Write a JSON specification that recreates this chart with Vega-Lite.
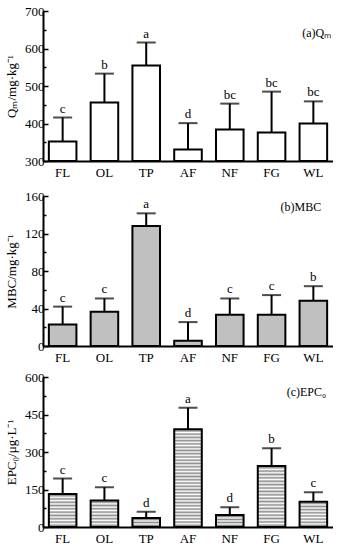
{
  "$schema": "https://vega.github.io/schema/vega-lite/v6.json",
  "padding": {"left": 5, "top": 5, "right": 0, "bottom": 0},
  "spacing": 11,
  "config": {
    "font": "Liberation Serif",
    "view": {"stroke": null},
    "axis": {"domainColor": "black", "domainWidth": 2, "tickColor": "black", "labelColor": "black", "labelFont": "Liberation Serif", "labelFontSize": 13, "titleFont": "Liberation Serif", "titleFontSize": 13, "titleFontWeight": "normal", "titleColor": "black", "grid": false, "labelOverlap": false},
    "axisX": {"ticks": false, "labelPadding": 5, "labelAngle": 0, "title": null},
    "axisY": {"tickWidth": 1.5, "labelPadding": 4, "titlePadding": 6, "tickCount": 20}
  },
  "datasets": {
    "qm": [
      {"site": "FL", "value": 352, "err": 416, "sig": "c"},
      {"site": "OL", "value": 456, "err": 533, "sig": "b"},
      {"site": "TP", "value": 555, "err": 616, "sig": "a"},
      {"site": "AF", "value": 331, "err": 401, "sig": "d"},
      {"site": "NF", "value": 384, "err": 453, "sig": "bc"},
      {"site": "FG", "value": 376, "err": 485, "sig": "bc"},
      {"site": "WL", "value": 400, "err": 459, "sig": "bc"}
    ],
    "mbc": [
      {"site": "FL", "value": 23, "err": 42, "sig": "c"},
      {"site": "OL", "value": 36.5, "err": 50.7, "sig": "c"},
      {"site": "TP", "value": 128, "err": 141.5, "sig": "a"},
      {"site": "AF", "value": 5.7, "err": 25.5, "sig": "d"},
      {"site": "NF", "value": 33.3, "err": 50.7, "sig": "c"},
      {"site": "FG", "value": 33.3, "err": 54.3, "sig": "c"},
      {"site": "WL", "value": 48.2, "err": 63.8, "sig": "b"}
    ],
    "epc": [
      {"site": "FL", "value": 132, "err": 194, "sig": "c"},
      {"site": "OL", "value": 106, "err": 159, "sig": "c"},
      {"site": "TP", "value": 36, "err": 61, "sig": "d"},
      {"site": "AF", "value": 391, "err": 477, "sig": "a"},
      {"site": "NF", "value": 48, "err": 79, "sig": "d"},
      {"site": "FG", "value": 244, "err": 315, "sig": "b"},
      {"site": "WL", "value": 101, "err": 139, "sig": "c"}
    ]
  },
  "vconcat": [
    {
      "width": 290, "height": 150,
      "data": {"name": "qm"},
      "encoding": {"x": {"field": "site", "type": "nominal", "sort": null, "scale": {"paddingInner": 0.34, "paddingOuter": 0.14}}},
      "layer": [
        {"mark": {"type": "rule", "strokeWidth": 2, "color": "black"},
         "encoding": {"y": {"field": "value", "type": "quantitative", "scale": {"domain": [300, 700], "zero": false, "nice": false},
           "axis": {"title": "Qₘ/mg·kg⁻¹", "tickCount": 20, "values": [300, 350, 400, 450, 500, 550, 600, 650, 700], "labelExpr": "datum.value % 100 === 0 ? datum.label : ''", "tickSize": {"condition": {"test": "datum.value % 100 === 0", "value": -5}, "value": -3}}},
           "y2": {"field": "err"}}},
        {"mark": {"type": "tick", "size": 19, "thickness": 2, "color": "black"}, "encoding": {"y": {"field": "err", "type": "quantitative"}}},
        {"mark": {"type": "bar", "fill": "white", "stroke": "black", "strokeWidth": 2}, "encoding": {"y": {"field": "value", "type": "quantitative"}, "y2": {"datum": 300}}},
        {"mark": {"type": "text", "baseline": "bottom", "dy": -2, "fontSize": 13}, "encoding": {"y": {"field": "err", "type": "quantitative"}, "text": {"field": "sig"}}},
        {"data": {"values": [{}]}, "mark": {"type": "text", "align": "right", "baseline": "middle", "fontSize": 12, "dx": 4},
         "encoding": {"x": {"datum": "WL", "bandPosition": 1}, "y": {"datum": 641}, "text": {"value": "(a)Qₘ"}}}
      ]
    },
    {
      "spacing": 7,
      "vconcat": [
    {
      "width": 290, "height": 150,
      "data": {"name": "mbc"},
      "encoding": {"x": {"field": "site", "type": "nominal", "sort": null, "scale": {"paddingInner": 0.34, "paddingOuter": 0.14}}},
      "layer": [
        {"mark": {"type": "rule", "strokeWidth": 2, "color": "black"},
         "encoding": {"y": {"field": "value", "type": "quantitative", "scale": {"domain": [0, 160], "nice": false},
           "axis": {"title": "MBC/mg·kg⁻¹", "tickCount": 20, "values": [0, 20, 40, 60, 80, 100, 120, 140, 160], "labelExpr": "datum.value % 40 === 0 ? datum.label : ''", "tickSize": {"condition": {"test": "datum.value % 40 === 0", "value": -5}, "value": -3}}},
           "y2": {"field": "err"}}},
        {"mark": {"type": "tick", "size": 19, "thickness": 2, "color": "black"}, "encoding": {"y": {"field": "err", "type": "quantitative"}}},
        {"mark": {"type": "bar", "fill": "#c0c0c0", "stroke": "black", "strokeWidth": 2}, "encoding": {"y": {"field": "value", "type": "quantitative"}}},
        {"mark": {"type": "text", "baseline": "bottom", "dy": -2, "fontSize": 13}, "encoding": {"y": {"field": "err", "type": "quantitative"}, "text": {"field": "sig"}}},
        {"data": {"values": [{}]}, "mark": {"type": "text", "align": "right", "baseline": "middle", "fontSize": 12, "dx": -6},
         "encoding": {"x": {"datum": "WL", "bandPosition": 1}, "y": {"datum": 148}, "text": {"value": "(b)MBC"}}}
      ]
    },
    {
      "width": 290, "height": 150,
      "data": {"name": "epc"},
      "encoding": {"x": {"field": "site", "type": "nominal", "sort": null, "scale": {"paddingInner": 0.34, "paddingOuter": 0.14}}},
      "layer": [
        {"mark": {"type": "rule", "strokeWidth": 2, "color": "black"},
         "encoding": {"y": {"field": "value", "type": "quantitative", "scale": {"domain": [0, 600], "nice": false},
           "axis": {"title": "EPC₀/μg·L⁻¹", "tickCount": 20, "values": [0, 75, 150, 225, 300, 375, 450, 525, 600], "labelExpr": "datum.value % 150 === 0 ? datum.label : ''", "tickSize": {"condition": {"test": "datum.value % 150 === 0", "value": -5}, "value": -3}}},
           "y2": {"field": "err"}}},
        {"mark": {"type": "tick", "size": 19, "thickness": 2, "color": "black"}, "encoding": {"y": {"field": "err", "type": "quantitative"}}},
        {"transform": [{"filter": "datum.site === 'FL'"}],
         "mark": {"type": "bar", "stroke": "black", "strokeWidth": 2, "fill": {"gradient": "linear", "x1": 0, "y1": 0, "x2": 0, "y2": 1, "stops": [
           {"offset": 0, "color": "#ffffff"}, {"offset": 0.05, "color": "#8c8c8c"}, {"offset": 0.1, "color": "#ffffff"}, {"offset": 0.15, "color": "#8c8c8c"}, {"offset": 0.2, "color": "#ffffff"}, {"offset": 0.25, "color": "#8c8c8c"}, {"offset": 0.3, "color": "#ffffff"}, {"offset": 0.35, "color": "#8c8c8c"}, {"offset": 0.4, "color": "#ffffff"}, {"offset": 0.45, "color": "#8c8c8c"}, {"offset": 0.5, "color": "#ffffff"}, {"offset": 0.55, "color": "#8c8c8c"}, {"offset": 0.6, "color": "#ffffff"}, {"offset": 0.65, "color": "#8c8c8c"}, {"offset": 0.7, "color": "#ffffff"}, {"offset": 0.75, "color": "#8c8c8c"}, {"offset": 0.8, "color": "#ffffff"}, {"offset": 0.85, "color": "#8c8c8c"}, {"offset": 0.9, "color": "#ffffff"}, {"offset": 0.95, "color": "#8c8c8c"}, {"offset": 1, "color": "#ffffff"}]}},
         "encoding": {"y": {"field": "value", "type": "quantitative"}}},
        {"transform": [{"filter": "datum.site === 'OL' || datum.site === 'WL'"}],
         "mark": {"type": "bar", "stroke": "black", "strokeWidth": 2, "fill": {"gradient": "linear", "x1": 0, "y1": 0, "x2": 0, "y2": 1, "stops": [
           {"offset": 0, "color": "#ffffff"}, {"offset": 0.0625, "color": "#8c8c8c"}, {"offset": 0.125, "color": "#ffffff"}, {"offset": 0.1875, "color": "#8c8c8c"}, {"offset": 0.25, "color": "#ffffff"}, {"offset": 0.3125, "color": "#8c8c8c"}, {"offset": 0.375, "color": "#ffffff"}, {"offset": 0.4375, "color": "#8c8c8c"}, {"offset": 0.5, "color": "#ffffff"}, {"offset": 0.5625, "color": "#8c8c8c"}, {"offset": 0.625, "color": "#ffffff"}, {"offset": 0.6875, "color": "#8c8c8c"}, {"offset": 0.75, "color": "#ffffff"}, {"offset": 0.8125, "color": "#8c8c8c"}, {"offset": 0.875, "color": "#ffffff"}, {"offset": 0.9375, "color": "#8c8c8c"}, {"offset": 1, "color": "#ffffff"}]}},
         "encoding": {"y": {"field": "value", "type": "quantitative"}}},
        {"transform": [{"filter": "datum.site === 'TP'"}],
         "mark": {"type": "bar", "stroke": "black", "strokeWidth": 2, "fill": {"gradient": "linear", "x1": 0, "y1": 0, "x2": 0, "y2": 1, "stops": [
           {"offset": 0, "color": "#ffffff"}, {"offset": 0.1667, "color": "#8c8c8c"}, {"offset": 0.3333, "color": "#ffffff"}, {"offset": 0.5, "color": "#8c8c8c"}, {"offset": 0.6667, "color": "#ffffff"}, {"offset": 0.8333, "color": "#8c8c8c"}, {"offset": 1, "color": "#ffffff"}]}},
         "encoding": {"y": {"field": "value", "type": "quantitative"}}},
        {"transform": [{"filter": "datum.site === 'AF'"}],
         "mark": {"type": "bar", "stroke": "black", "strokeWidth": 2, "fill": {"gradient": "linear", "x1": 0, "y1": 0, "x2": 0, "y2": 1, "stops": [
           {"offset": 0, "color": "#ffffff"}, {"offset": 0.0167, "color": "#8c8c8c"}, {"offset": 0.0333, "color": "#ffffff"}, {"offset": 0.05, "color": "#8c8c8c"}, {"offset": 0.0667, "color": "#ffffff"}, {"offset": 0.0833, "color": "#8c8c8c"}, {"offset": 0.1, "color": "#ffffff"}, {"offset": 0.1167, "color": "#8c8c8c"}, {"offset": 0.1333, "color": "#ffffff"}, {"offset": 0.15, "color": "#8c8c8c"}, {"offset": 0.1667, "color": "#ffffff"}, {"offset": 0.1833, "color": "#8c8c8c"}, {"offset": 0.2, "color": "#ffffff"}, {"offset": 0.2167, "color": "#8c8c8c"}, {"offset": 0.2333, "color": "#ffffff"}, {"offset": 0.25, "color": "#8c8c8c"}, {"offset": 0.2667, "color": "#ffffff"}, {"offset": 0.2833, "color": "#8c8c8c"}, {"offset": 0.3, "color": "#ffffff"}, {"offset": 0.3167, "color": "#8c8c8c"}, {"offset": 0.3333, "color": "#ffffff"}, {"offset": 0.35, "color": "#8c8c8c"}, {"offset": 0.3667, "color": "#ffffff"}, {"offset": 0.3833, "color": "#8c8c8c"}, {"offset": 0.4, "color": "#ffffff"}, {"offset": 0.4167, "color": "#8c8c8c"}, {"offset": 0.4333, "color": "#ffffff"}, {"offset": 0.45, "color": "#8c8c8c"}, {"offset": 0.4667, "color": "#ffffff"}, {"offset": 0.4833, "color": "#8c8c8c"}, {"offset": 0.5, "color": "#ffffff"}, {"offset": 0.5167, "color": "#8c8c8c"}, {"offset": 0.5333, "color": "#ffffff"}, {"offset": 0.55, "color": "#8c8c8c"}, {"offset": 0.5667, "color": "#ffffff"}, {"offset": 0.5833, "color": "#8c8c8c"}, {"offset": 0.6, "color": "#ffffff"}, {"offset": 0.6167, "color": "#8c8c8c"}, {"offset": 0.6333, "color": "#ffffff"}, {"offset": 0.65, "color": "#8c8c8c"}, {"offset": 0.6667, "color": "#ffffff"}, {"offset": 0.6833, "color": "#8c8c8c"}, {"offset": 0.7, "color": "#ffffff"}, {"offset": 0.7167, "color": "#8c8c8c"}, {"offset": 0.7333, "color": "#ffffff"}, {"offset": 0.75, "color": "#8c8c8c"}, {"offset": 0.7667, "color": "#ffffff"}, {"offset": 0.7833, "color": "#8c8c8c"}, {"offset": 0.8, "color": "#ffffff"}, {"offset": 0.8167, "color": "#8c8c8c"}, {"offset": 0.8333, "color": "#ffffff"}, {"offset": 0.85, "color": "#8c8c8c"}, {"offset": 0.8667, "color": "#ffffff"}, {"offset": 0.8833, "color": "#8c8c8c"}, {"offset": 0.9, "color": "#ffffff"}, {"offset": 0.9167, "color": "#8c8c8c"}, {"offset": 0.9333, "color": "#ffffff"}, {"offset": 0.95, "color": "#8c8c8c"}, {"offset": 0.9667, "color": "#ffffff"}, {"offset": 0.9833, "color": "#8c8c8c"}, {"offset": 1, "color": "#ffffff"}]}},
         "encoding": {"y": {"field": "value", "type": "quantitative"}}},
        {"transform": [{"filter": "datum.site === 'NF'"}],
         "mark": {"type": "bar", "stroke": "black", "strokeWidth": 2, "fill": {"gradient": "linear", "x1": 0, "y1": 0, "x2": 0, "y2": 1, "stops": [
           {"offset": 0, "color": "#ffffff"}, {"offset": 0.125, "color": "#8c8c8c"}, {"offset": 0.25, "color": "#ffffff"}, {"offset": 0.375, "color": "#8c8c8c"}, {"offset": 0.5, "color": "#ffffff"}, {"offset": 0.625, "color": "#8c8c8c"}, {"offset": 0.75, "color": "#ffffff"}, {"offset": 0.875, "color": "#8c8c8c"}, {"offset": 1, "color": "#ffffff"}]}},
         "encoding": {"y": {"field": "value", "type": "quantitative"}}},
        {"transform": [{"filter": "datum.site === 'FG'"}],
         "mark": {"type": "bar", "stroke": "black", "strokeWidth": 2, "fill": {"gradient": "linear", "x1": 0, "y1": 0, "x2": 0, "y2": 1, "stops": [
           {"offset": 0, "color": "#ffffff"}, {"offset": 0.0278, "color": "#8c8c8c"}, {"offset": 0.0556, "color": "#ffffff"}, {"offset": 0.0833, "color": "#8c8c8c"}, {"offset": 0.1111, "color": "#ffffff"}, {"offset": 0.1389, "color": "#8c8c8c"}, {"offset": 0.1667, "color": "#ffffff"}, {"offset": 0.1944, "color": "#8c8c8c"}, {"offset": 0.2222, "color": "#ffffff"}, {"offset": 0.25, "color": "#8c8c8c"}, {"offset": 0.2778, "color": "#ffffff"}, {"offset": 0.3056, "color": "#8c8c8c"}, {"offset": 0.3333, "color": "#ffffff"}, {"offset": 0.3611, "color": "#8c8c8c"}, {"offset": 0.3889, "color": "#ffffff"}, {"offset": 0.4167, "color": "#8c8c8c"}, {"offset": 0.4444, "color": "#ffffff"}, {"offset": 0.4722, "color": "#8c8c8c"}, {"offset": 0.5, "color": "#ffffff"}, {"offset": 0.5278, "color": "#8c8c8c"}, {"offset": 0.5556, "color": "#ffffff"}, {"offset": 0.5833, "color": "#8c8c8c"}, {"offset": 0.6111, "color": "#ffffff"}, {"offset": 0.6389, "color": "#8c8c8c"}, {"offset": 0.6667, "color": "#ffffff"}, {"offset": 0.6944, "color": "#8c8c8c"}, {"offset": 0.7222, "color": "#ffffff"}, {"offset": 0.75, "color": "#8c8c8c"}, {"offset": 0.7778, "color": "#ffffff"}, {"offset": 0.8056, "color": "#8c8c8c"}, {"offset": 0.8333, "color": "#ffffff"}, {"offset": 0.8611, "color": "#8c8c8c"}, {"offset": 0.8889, "color": "#ffffff"}, {"offset": 0.9167, "color": "#8c8c8c"}, {"offset": 0.9444, "color": "#ffffff"}, {"offset": 0.9722, "color": "#8c8c8c"}, {"offset": 1, "color": "#ffffff"}]}},
         "encoding": {"y": {"field": "value", "type": "quantitative"}}},
        {"mark": {"type": "text", "baseline": "bottom", "dy": -2, "fontSize": 13}, "encoding": {"y": {"field": "err", "type": "quantitative"}, "text": {"field": "sig"}}},
        {"data": {"values": [{}]}, "mark": {"type": "text", "align": "right", "baseline": "middle", "fontSize": 12, "dx": -1},
         "encoding": {"x": {"datum": "WL", "bandPosition": 1}, "y": {"datum": 540}, "text": {"value": "(c)EPC₀"}}}
      ]
    }
      ]
    }
  ]
}
